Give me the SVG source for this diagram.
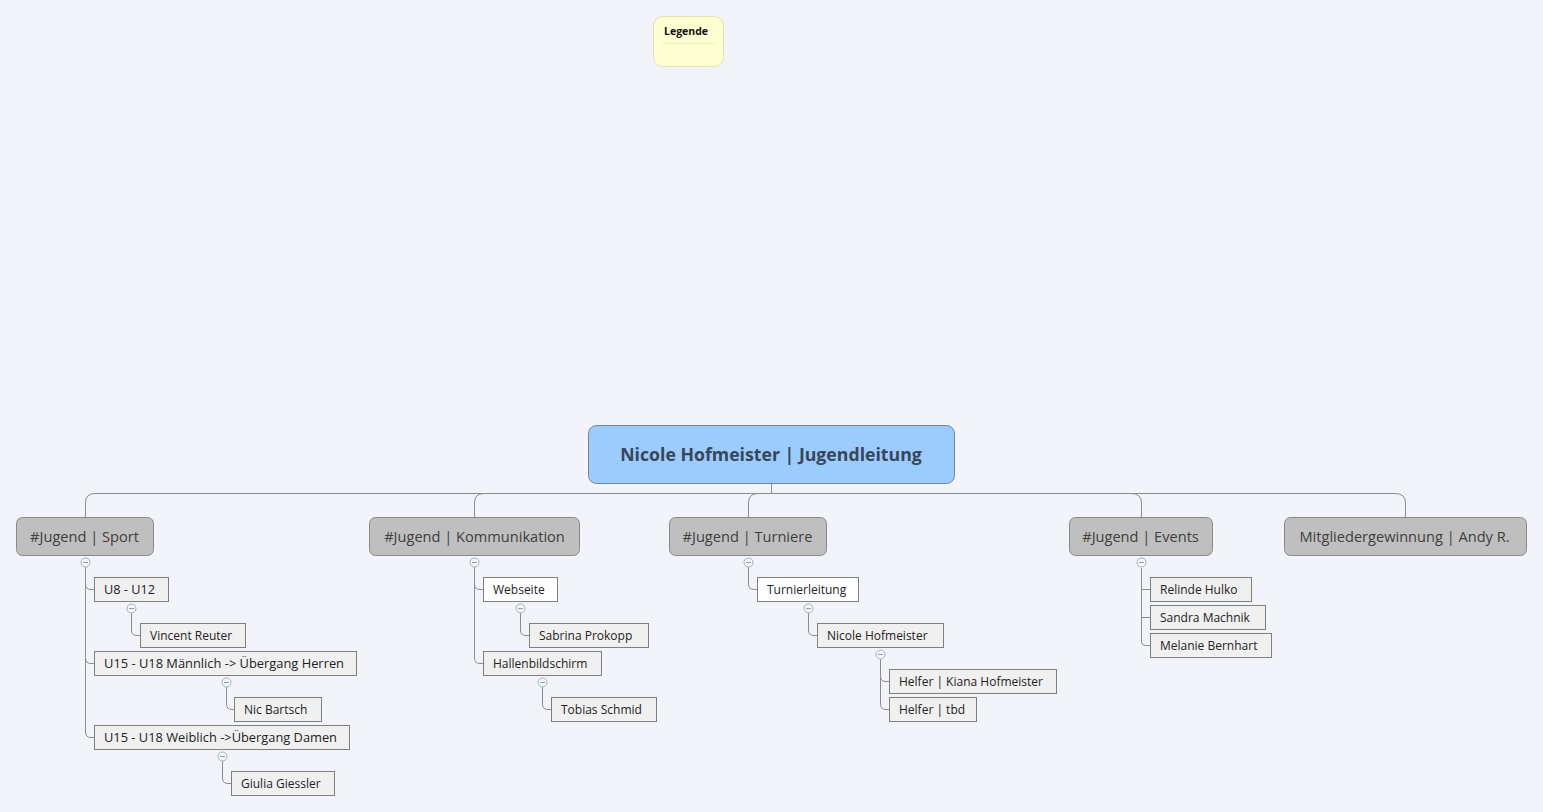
<svg xmlns="http://www.w3.org/2000/svg" width="1543" height="812" viewBox="0 0 1543 812">
<style>
.bg{fill:#f2f4f9}
.root{fill:#9ccbfd;stroke:#72879e;stroke-width:1}
.roottx{font-family:"Open Sans","Noto Sans",sans-serif;font-weight:bold;font-size:17.7px;fill:#37475a;text-anchor:middle}
.main{fill:#bfbfbf;stroke:#8a8a8a;stroke-width:1}
.maintx{font-family:"Open Sans","Noto Sans",sans-serif;font-size:14.6px;fill:#404040;text-anchor:middle}
.sub{fill:#f0f0f0;stroke:#7f7f7f;stroke-width:1}
.subw{fill:#ffffff;stroke:#7f7f7f;stroke-width:1}
.subtx{font-family:"Open Sans","Noto Sans",sans-serif;font-size:12px;fill:#222}
.conn{fill:none;stroke:#8c8c8c;stroke-width:1}
.col circle{fill:#f4f6fa;stroke:#9fb0c4;stroke-width:1}
.col line{stroke:#8fa0b4;stroke-width:1}
.leg{fill:#ffffd2;stroke:#e3e2b0;stroke-width:1}
.legtx{font-family:"Open Sans","Noto Sans",sans-serif;font-weight:bold;font-size:10.5px;fill:#111}
</style>
<rect class="bg" x="0" y="0" width="1543" height="812"/>

<g id="legende">
<rect class="leg" x="653.5" y="16.5" width="70" height="50" rx="9"/>
<line x1="663" y1="43.5" x2="715" y2="43.5" stroke="#ebe9c4" stroke-width="1"/>
<text class="legtx" x="664" y="35">Legende</text>
</g>

<g id="connectors">
<path class="conn" d="M771.5,483 V493.5"/>
<path class="conn" d="M771.5,493.5 H95 Q85.5,493.5 85.5,503 V517"/>
<path class="conn" d="M771.5,493.5 H484 Q474.5,493.5 474.5,503 V517"/>
<path class="conn" d="M771.5,493.5 H758 Q748.5,493.5 748.5,503 V517"/>
<path class="conn" d="M771.5,493.5 H1131 Q1141.5,493.5 1141.5,503 V517"/>
<path class="conn" d="M771.5,493.5 H1395 Q1405.5,493.5 1405.5,503 V517"/>
<path class="conn" d="M85.5,567 V584 Q85.5,589.5 91,589.5 H94"/>
<path class="conn" d="M85.5,567 V658 Q85.5,663.5 91,663.5 H94"/>
<path class="conn" d="M85.5,567 V732 Q85.5,737.5 91,737.5 H94"/>
<path class="conn" d="M131.5,613 V630 Q131.5,635.5 137,635.5 H140"/>
<path class="conn" d="M226.5,687 V704 Q226.5,709.5 232,709.5 H234"/>
<path class="conn" d="M222.5,761 V778 Q222.5,783.5 228,783.5 H231"/>
<path class="conn" d="M474.5,567 V584 Q474.5,589.5 480,589.5 H483"/>
<path class="conn" d="M474.5,567 V658 Q474.5,663.5 480,663.5 H483"/>
<path class="conn" d="M520.5,613 V630 Q520.5,635.5 526,635.5 H529"/>
<path class="conn" d="M542.5,687 V704 Q542.5,709.5 548,709.5 H551"/>
<path class="conn" d="M748.5,567 V584 Q748.5,589.5 754,589.5 H757"/>
<path class="conn" d="M808.5,613 V630 Q808.5,635.5 814,635.5 H817"/>
<path class="conn" d="M880.5,659 V676 Q880.5,681.5 886,681.5 H889"/>
<path class="conn" d="M880.5,659 V704 Q880.5,709.5 886,709.5 H889"/>
<path class="conn" d="M1141.5,568 V589.5 H1150"/>
<path class="conn" d="M1141.5,568 V617.5 H1150"/>
<path class="conn" d="M1141.5,568 V641 Q1141.5,645.5 1146,645.5 H1150"/>
</g>

<g id="collapse-markers" class="col">
<g><circle cx="85.5" cy="562.5" r="4.5"/><line x1="83" y1="562.5" x2="88" y2="562.5"/></g>
<g><circle cx="131.5" cy="608.5" r="4.5"/><line x1="129" y1="608.5" x2="134" y2="608.5"/></g>
<g><circle cx="226.5" cy="682.5" r="4.5"/><line x1="224" y1="682.5" x2="229" y2="682.5"/></g>
<g><circle cx="222.5" cy="756.5" r="4.5"/><line x1="220" y1="756.5" x2="225" y2="756.5"/></g>
<g><circle cx="474.5" cy="562.5" r="4.5"/><line x1="472" y1="562.5" x2="477" y2="562.5"/></g>
<g><circle cx="520.5" cy="608.5" r="4.5"/><line x1="518" y1="608.5" x2="523" y2="608.5"/></g>
<g><circle cx="542.5" cy="682.5" r="4.5"/><line x1="540" y1="682.5" x2="545" y2="682.5"/></g>
<g><circle cx="748.5" cy="562.5" r="4.5"/><line x1="746" y1="562.5" x2="751" y2="562.5"/></g>
<g><circle cx="808.5" cy="608.5" r="4.5"/><line x1="806" y1="608.5" x2="811" y2="608.5"/></g>
<g><circle cx="880.5" cy="654.5" r="4.5"/><line x1="878" y1="654.5" x2="883" y2="654.5"/></g>
<g><circle cx="1141.5" cy="562.5" r="4.5"/><line x1="1139" y1="562.5" x2="1144" y2="562.5"/></g>
</g>

<g id="root">
<rect class="root" x="588.5" y="425.5" width="366" height="58" rx="8"/>
<text class="roottx" x="771" y="461">Nicole Hofmeister | Jugendleitung</text>
</g>

<g id="sport">
<rect class="main" x="16.5" y="517.5" width="137" height="38" rx="6"/>
<text class="maintx" x="84.5" y="541.5">#Jugend | Sport</text>
</g>
<g id="kommunikation">
<rect class="main" x="369.5" y="517.5" width="210" height="38" rx="6"/>
<text class="maintx" x="474.5" y="541.5">#Jugend | Kommunikation</text>
</g>
<g id="turniere">
<rect class="main" x="669.5" y="517.5" width="157" height="38" rx="6"/>
<text class="maintx" x="747.5" y="541.5">#Jugend | Turniere</text>
</g>
<g id="events">
<rect class="main" x="1069.5" y="517.5" width="143" height="38" rx="6"/>
<text class="maintx" x="1140.5" y="541.5">#Jugend | Events</text>
</g>
<g id="mitglieder">
<rect class="main" x="1284.5" y="517.5" width="242" height="38" rx="6"/>
<text class="maintx" x="1404.5" y="541.5">Mitgliedergewinnung | Andy R.</text>
</g>

<g id="u8-u12"><rect class="sub" x="94.5" y="577.5" width="74" height="24"/><text class="subtx" x="104" y="594" textLength="51" lengthAdjust="spacingAndGlyphs">U8 - U12</text></g>
<g id="vincent"><rect class="sub" x="140.5" y="623.5" width="105" height="24"/><text class="subtx" x="150" y="640">Vincent Reuter</text></g>
<g id="u15m"><rect class="sub" x="94.5" y="651.5" width="262" height="24"/><text class="subtx" x="104" y="668" textLength="240" lengthAdjust="spacingAndGlyphs">U15 - U18 Männlich -&gt; Übergang Herren</text></g>
<g id="nic"><rect class="sub" x="234.5" y="697.5" width="87" height="24"/><text class="subtx" x="244" y="714">Nic Bartsch</text></g>
<g id="u15w"><rect class="sub" x="94.5" y="725.5" width="255" height="24"/><text class="subtx" x="104" y="742" textLength="233" lengthAdjust="spacingAndGlyphs">U15 - U18 Weiblich -&gt;Übergang Damen</text></g>
<g id="giulia"><rect class="sub" x="231.5" y="771.5" width="103" height="24"/><text class="subtx" x="241" y="788">Giulia Giessler</text></g>

<g id="webseite"><rect class="subw" x="483.5" y="577.5" width="74" height="24"/><text class="subtx" x="493" y="594">Webseite</text></g>
<g id="sabrina"><rect class="sub" x="529.5" y="623.5" width="119" height="24"/><text class="subtx" x="539" y="640">Sabrina Prokopp</text></g>
<g id="hallen"><rect class="sub" x="483.5" y="651.5" width="118" height="24"/><text class="subtx" x="493" y="668">Hallenbildschirm</text></g>
<g id="tobias"><rect class="sub" x="551.5" y="697.5" width="105" height="24"/><text class="subtx" x="561" y="714">Tobias Schmid</text></g>

<g id="turnierleitung"><rect class="subw" x="757.5" y="577.5" width="101" height="24"/><text class="subtx" x="767" y="594">Turnierleitung</text></g>
<g id="nicole"><rect class="sub" x="817.5" y="623.5" width="126" height="24"/><text class="subtx" x="827" y="640">Nicole Hofmeister</text></g>
<g id="kiana"><rect class="sub" x="889.5" y="669.5" width="167" height="24"/><text class="subtx" x="899" y="686">Helfer | Kiana Hofmeister</text></g>
<g id="tbd"><rect class="sub" x="889.5" y="697.5" width="87" height="24"/><text class="subtx" x="899" y="714">Helfer | tbd</text></g>

<g id="relinde"><rect class="sub" x="1150.5" y="577.5" width="101" height="24"/><text class="subtx" x="1160" y="594">Relinde Hulko</text></g>
<g id="sandra"><rect class="sub" x="1150.5" y="605.5" width="115" height="24"/><text class="subtx" x="1160" y="622">Sandra Machnik</text></g>
<g id="melanie"><rect class="sub" x="1150.5" y="633.5" width="121" height="24"/><text class="subtx" x="1160" y="650">Melanie Bernhart</text></g>
</svg>
